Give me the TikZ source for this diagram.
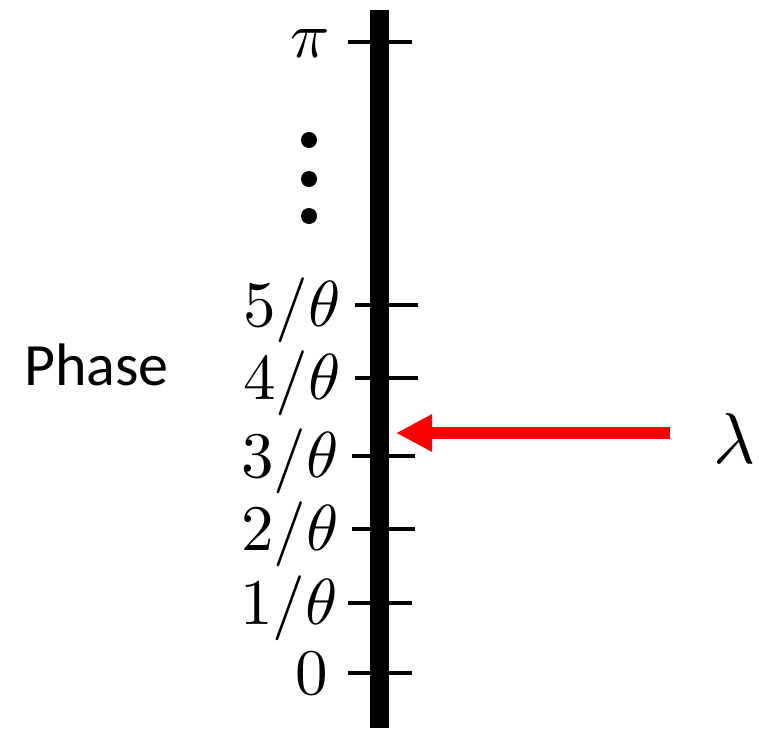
\documentclass[tikz,border=0pt]{standalone}
\usepackage{fontspec}
\usepackage{unicode-math}
\setmathfont{Latin Modern Math}
\newfontfamily\carlito{Carlito}
\usetikzlibrary{arrows.meta}
\begin{document}
\begin{tikzpicture}[x=1pt,y=-1pt,
  axisline/.style={line width=19pt},
  tickline/.style={line width=4.5pt},
  ticklabel/.style={anchor=base east,inner sep=0pt,font=\fontsize{65}{78}\selectfont},
  pointer/.style={red,line width=12pt,-{Triangle[length=36pt,width=35pt]}},
  dotmark/.style={circle,fill=black,inner sep=0pt,minimum size=16pt}]
\useasboundingbox (0,0) rectangle (759,731);
% axis
\coordinate (axtop) at (379,10);
\coordinate (axbot) at (379,728);
\draw[axisline] (axtop) -- (axbot);
% ticks
\coordinate (tpiL) at (348,42); \coordinate (tpiR) at (412,42);
\coordinate (t5L) at (355,305); \coordinate (t5R) at (418,305);
\coordinate (t4L) at (355,378); \coordinate (t4R) at (418,378);
\coordinate (t3L) at (352,456); \coordinate (t3R) at (415,456);
\coordinate (t2L) at (352,529); \coordinate (t2R) at (415,529);
\coordinate (t1L) at (348,603); \coordinate (t1R) at (412,603);
\coordinate (t0L) at (348,673); \coordinate (t0R) at (412,673);
\foreach \t in {pi,5,4,3,2,1,0}{\draw[tickline] (t\t L) -- (t\t R);}
% labels
\node[ticklabel] (lpi) at (329,57) {$\pi$};
\node[ticklabel] (l5) at (340,326) {$5/\theta$};
\node[ticklabel] (l4) at (340,399) {$4/\theta$};
\node[ticklabel] (l3) at (338,477) {$3/\theta$};
\node[ticklabel] (l2) at (338,550) {$2/\theta$};
\node[ticklabel] (l1) at (337,624) {$1/\theta$};
\node[ticklabel] (l0) at (328,694) {$0$};
% dots
\node[dotmark] (d1) at (309,140) {};
\node[dotmark] (d2) at (309,179) {};
\node[dotmark] (d3) at (309,216) {};
% phase
\node[anchor=base west,inner sep=0pt,font=\carlito\fontsize{60}{72}\selectfont] (phase) at (24,385) {Phase};
% lambda arrow
\coordinate (arrstart) at (670,433);
\coordinate (arrend) at (396,433);
\draw[pointer] (arrstart) -- (arrend);
\node[anchor=base west,inner sep=0pt,font=\fontsize{72}{86}\selectfont] (lam) at (713,463) {$\lambda$};
\end{tikzpicture}
\end{document}
